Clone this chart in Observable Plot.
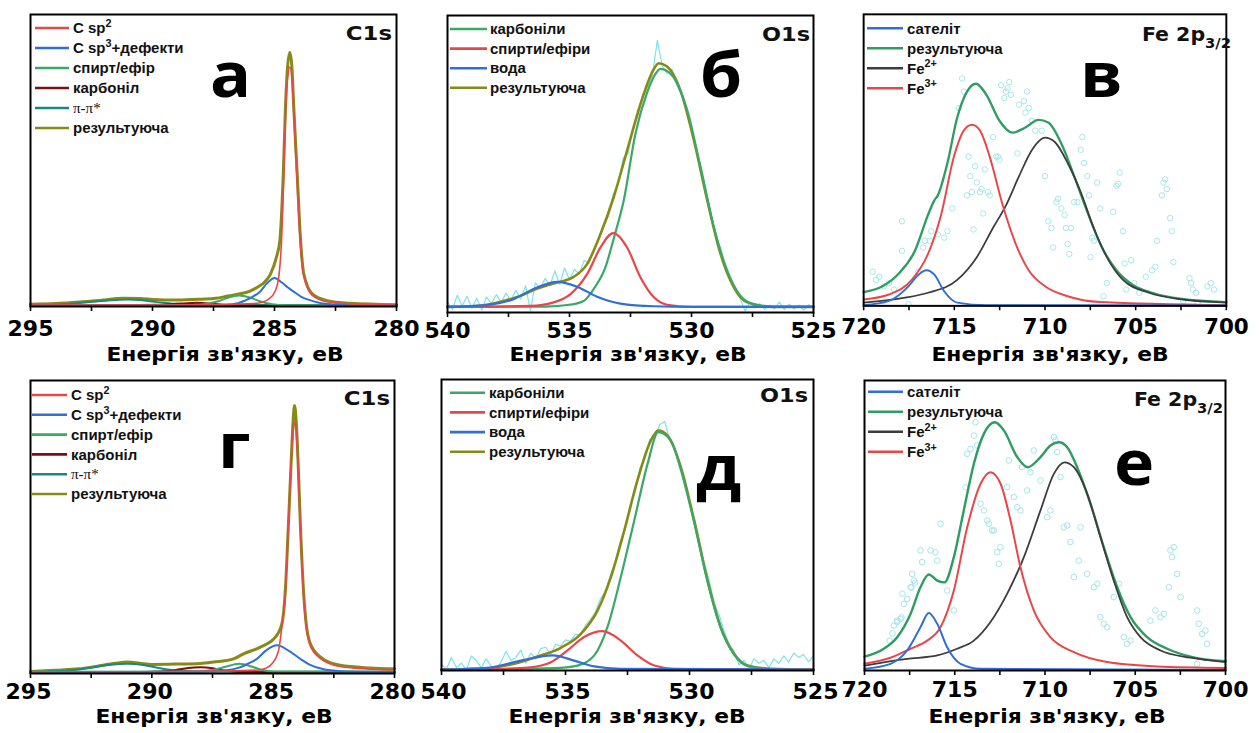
<!DOCTYPE html>
<html><head><meta charset="utf-8">
<script src="https://cdn.jsdelivr.net/npm/d3@7"></script>
<script src="https://cdn.jsdelivr.net/npm/@observablehq/plot@0.6"></script>
<style>
html,body{margin:0;padding:0;background:#fff;overflow:hidden;width:1259px;height:733px}
#root{position:relative;width:1259px;height:733px;overflow:hidden}
.panel{position:absolute}
#overlay{position:absolute;left:0;top:0;pointer-events:none}
</style></head><body><div id="root"></div>
<script>
// ---------- tick values ----------
const ticksC = [295, 290, 285, 280], minorC = [292.5, 287.5, 282.5];
const ticksO = [540, 535, 530, 525], minorO = [537.5, 532.5, 527.5];
const ticksFe = [720, 715, 710, 705, 700], minorFe = [717.5, 712.5, 707.5, 702.5];
const xTitle = "Енергія зв'язку, еВ";
const panelLetters = ["а", "б", "в", "г", "д", "е"];
const elementLabels = ["C1s", "O1s", "Fe 2p_{3/2}", "C1s", "O1s", "Fe 2p_{3/2}"];
const legC = ["C sp^{2}", "C sp^{3}+дефекти", "спирт/ефір", "карбоніл", "π-π*", "результуюча"];
const legO = ["карбоніли", "спирти/ефіри", "вода", "результуюча"];
const legFe = ["сателіт", "результуюча", "Fe^{2+}", "Fe^{3+}"];

// ---------- panel а (C1s) [eV, intensity] ----------
const a_total = [[295,0.8],[294,1.0],[293,1.5],[292,2.2],[291.2,2.8],[290.5,2.7],[290,2.4],[289,2.2],[288,2.5],[287.4,2.8],[286.9,3.6],[286.5,4.2],[286.0,5.3],[285.7,6.6],[285.4,8.4],[285.16,11.2],[284.92,16.9],[284.78,22.6],[284.64,45.4],[284.55,68.3],[284.46,82.5],[284.37,87.1],[284.29,82.5],[284.21,68.3],[284.07,45.4],[283.93,22.6],[283.8,11.2],[283.45,4.3],[282.84,2.0],[281.9,1.1],[280,0.6]];
const a_sp2 = [[295,0.5],[290,0.5],[288,0.6],[286.5,0.8],[285.71,1.1],[285.23,2.6],[284.96,5.5],[284.81,11.2],[284.71,22.6],[284.62,45.4],[284.54,68.3],[284.46,78.5],[284.37,82.0],[284.29,78.5],[284.21,66],[284.08,44],[283.94,21.5],[283.8,10.5],[283.45,3.8],[282.84,1.6],[281.9,0.9],[280,0.5]];
const a_sp3 = [[295,0.3],[288,0.4],[287,0.6],[286.5,1.1],[286.19,2.1],[285.9,3.3],[285.6,5.0],[285.3,8.0],[285.0,9.8],[284.7,8.2],[284.45,6.5],[284.2,5.0],[283.9,3.3],[283.52,2.1],[283.0,1.0],[282,0.5],[280,0.3]];
const a_ether = [[295,0.3],[288.5,0.4],[287.8,0.9],[287.3,1.8],[286.95,2.9],[286.45,3.8],[285.95,2.9],[285.6,1.8],[285.1,0.8],[284.5,0.4],[280,0.3]];
const a_carbonyl = [[295,0.2],[293,0.3],[291,0.5],[289.5,0.7],[288.8,1.0],[288.2,1.3],[287.6,1.0],[287,0.5],[286,0.3],[280,0.2]];
const a_pi = [[295,0.4],[293.5,0.8],[292.5,1.6],[291.5,2.2],[291.0,2.4],[290.5,2.2],[289.8,1.5],[289,0.9],[288,0.6],[286,0.5],[280,0.5]];

// ---------- panel б (O1s) ----------
const b_raw = [[540,3.5],[539.8,1.0],[539.6,5.8],[539.4,2.2],[539.2,5.5],[539.0,1.5],[538.8,4.8],[538.6,0.8],[538.4,5.2],[538.2,3.0],[538.0,6.0],[537.8,3.5],[537.6,6.5],[537.4,4.0],[537.2,7.5],[537.0,4.5],[536.8,9.0],[536.6,0.5],[536.4,10.0],[536.2,8.0],[536.0,11.5],[535.8,9.0],[535.6,14.0],[535.4,9.5],[535.2,15.0],[535.0,11.0],[534.8,14.5],[534.6,13.0],[534.4,17.5],[534.2,16.5],[534.0,21.0],[533.8,24.5],[533.6,29.0],[533.4,32.5],[533.2,40.0],[533.0,43.5],[532.8,52.0],[532.6,53.5],[532.4,62.0],[532.2,66.5],[532.0,73.5],[531.8,76.0],[531.6,80.0],[531.4,91.6],[531.2,83.0],[531.0,80.5],[530.8,82.0],[530.6,76.5],[530.4,73.0],[530.2,67.5],[530.0,62.5],[529.8,54.5],[529.6,49.0],[529.4,41.0],[529.2,33.5],[529.0,25.5],[528.8,21.5],[528.6,14.0],[528.4,11.5],[528.2,7.5],[528.0,4.5],[527.8,0.5],[527.6,3.5],[527.4,1.5],[527.2,3.0],[527.0,1.0],[526.8,2.5],[526.6,1.2],[526.4,3.5],[526.2,1.0],[526.0,2.8],[525.8,1.2],[525.6,2.5],[525.4,0.8],[525.2,2.6],[525.0,1.5]];
const b_total = [[540,1.9],[539,2.1],[538.39,2.6],[537.6,4.1],[537.02,5.6],[536.4,7.8],[535.65,9.8],[534.83,12.0],[534.28,16.3],[533.73,26.4],[533.19,38.8],[532.64,54.5],[532.09,70.2],[531.54,82.0],[531.34,83.9],[531.0,82.8],[530.45,74.7],[529.9,57.9],[529.35,37.6],[528.81,19.7],[528.26,8.4],[527.71,3.4],[526.75,1.9],[525,1.9]];
const b_carbonyl = [[540,1.9],[536,2.0],[535.0,2.6],[534.42,3.9],[534.0,8.0],[533.53,15.2],[533.15,26.0],[532.78,37.6],[532.3,60.1],[531.82,74.0],[531.5,80.0],[531.27,82.0],[530.95,81.0],[530.72,79.0],[530.17,68.0],[529.63,48.9],[529.08,28.7],[528.53,14.0],[527.99,5.6],[527.44,2.8],[526.5,1.9],[525,1.9]];
const b_alc = [[540,1.9],[536.6,2.2],[535.65,3.4],[534.96,6.2],[534.28,12.9],[533.73,21.9],[533.21,26.7],[532.64,21.9],[532.09,11.8],[531.54,5.1],[531.0,2.6],[530,1.9],[525,1.9]];
const b_water = [[540,1.9],[538.39,2.5],[537.29,4.5],[536.47,7.9],[535.51,10.3],[534.69,8.7],[533.87,5.3],[532.91,3.0],[531.54,2.1],[530,1.9],[525,1.9]];

// ---------- panel в (Fe 2p3/2) ----------
const v_raw = [[719.5,11.7],[719.32,8.9],[719.14,10.0],[718.87,6.7],[718.6,7.8],[718.33,5.6],[717.89,29.0],[717.89,18.9],[717.53,0.6],[716.99,11.7],[716.72,20.0],[716.63,22.3],[716.36,22.3],[716.27,25.6],[715.91,24.5],[715.56,23.4],[715.38,25.6],[715.11,33.4],[714.57,78.0],[714.75,67.9],[714.48,73.5],[714.3,37.9],[714.21,51.2],[714.12,44.5],[714.03,39.0],[713.94,26.2],[713.85,47.9],[713.76,42.3],[713.58,39.0],[713.49,40.1],[713.41,31.7],[713.32,46.8],[713.14,39.0],[713.05,37.9],[712.87,57.9],[712.69,51.2],[712.6,51.2],[712.51,50.1],[712.42,75.7],[712.24,71.3],[712.15,73.5],[712.06,74.6],[711.97,76.8],[711.88,72.4],[711.52,52.3],[711.43,69.0],[711.16,70.2],[711.08,66.3],[710.99,73.5],[710.9,67.9],[710.72,63.5],[710.54,60.1],[710.18,60.1],[710.0,44.5],[709.82,29.0],[709.64,26.7],[709.55,20.0],[709.37,35.6],[709.28,36.7],[709.1,33.4],[708.92,31.2],[708.84,26.7],[708.75,21.2],[708.66,17.8],[708.57,26.7],[708.39,35.6],[708.21,35.6],[708.03,53.5],[707.94,57.9],[707.85,49.0],[707.67,44.5],[707.58,37.9],[707.49,16.7],[707.4,23.4],[707.31,22.3],[707.13,42.3],[706.95,33.4],[706.77,3.3],[706.59,7.8],[706.24,32.3],[706.06,41.2],[705.97,41.8],[705.88,45.7],[705.7,25.6],[705.61,14.5],[705.52,5.6],[705.25,15.6],[705.07,7.8],[704.8,4.5],[704.44,10.0],[704.09,12.2],[703.91,13.4],[703.82,22.3],[703.55,37.9],[703.46,42.3],[703.37,43.4],[703.28,40.1],[703.1,30.1],[703.01,25.6],[702.92,15.0],[702.38,1.7],[702.03,9.5],[701.94,7.8],[701.85,5.6],[701.67,4.5],[701.58,1.1],[701.04,6.7],[700.86,7.8],[700.68,5.6]];
const v_sat = [[720,0.2],[718.6,1.7],[717.53,6.7],[716.99,10.6],[716.54,12.2],[716.09,10.6],[715.56,5.0],[714.84,1.1],[713.23,0.2],[700,0.1]];
const v_total = [[720,4.7],[718.96,6.7],[718.06,11.1],[717.17,18.9],[716.45,31.2],[716.1,36.2],[715.91,37.9],[715.38,49.0],[714.84,64.6],[714.3,73.5],[713.8,76.2],[713.23,72.4],[712.51,63.5],[711.79,59.4],[711.08,61.2],[710.36,63.8],[709.82,62.9],[709.1,55.7],[708.39,44.5],[707.67,32.3],[706.95,21.2],[706.06,12.2],[705.16,7.2],[704.09,4.5],[702.47,2.4],[700,1.3]];
const v_fe2 = [[720,1.1],[717.71,2.8],[716.45,4.5],[714.84,8.9],[713.76,16.7],[712.87,26.7],[712.15,34.5],[711.43,44.5],[710.72,53.5],[710.0,57.7],[709.46,56.2],[708.75,49.0],[708.03,39.0],[707.31,26.7],[706.59,16.7],[705.7,8.9],[704.27,4.5],[702.47,2.2],[700,1.1]];
const v_fe3 = [[720,2.2],[718.6,3.9],[717.35,8.9],[716.45,17.8],[715.73,31.2],[715.02,51.2],[714.48,60.1],[714.03,62.1],[713.58,60.1],[713.05,51.2],[712.33,34.5],[711.61,21.2],[710.9,12.2],[710.0,6.7],[708.75,3.3],[706.95,1.3],[700,0.2]];

// ---------- panel г (C1s) ----------
const g_total = [[295,0.7],[294,1.1],[293,1.6],[292.2,2.6],[291.5,3.5],[291.0,3.9],[290.5,3.5],[290,3.1],[289,3.2],[288,3.4],[287.45,3.9],[286.63,5.0],[286.22,6.7],[285.53,9.0],[284.91,12.4],[284.64,17.0],[284.5,28.3],[284.37,51.1],[284.25,73.8],[284.18,86],[284.12,91.5],[284.05,86],[283.98,73.8],[283.88,51.1],[283.75,28.3],[283.64,17.0],[283.47,10.2],[283.06,5.7],[282.24,2.8],[281,1.9],[280,1.6]];
const g_sp2 = [[295,0.6],[290,0.6],[287,0.8],[285.6,1.2],[285.3,1.8],[285.05,3.3],[284.78,7.8],[284.64,16],[284.5,27],[284.38,49.5],[284.26,72],[284.18,82],[284.12,85.8],[284.05,82],[283.98,72],[283.88,50],[283.75,27.5],[283.64,16.3],[283.47,9.5],[283.06,5.2],[282.24,2.4],[281,1.5],[280,1.2]];
const g_sp3 = [[295,0.5],[288,0.6],[287,1.0],[286.4,2.0],[286.0,3.5],[285.67,5.0],[285.3,7.8],[284.84,9.6],[284.4,8.0],[283.88,5.0],[283.5,3.0],[283,1.6],[282.2,0.8],[280,0.5]];
const g_ether = [[295,0.6],[288.2,0.7],[287.5,1.2],[287.0,2.2],[286.4,3.3],[285.9,2.4],[285.5,1.3],[285,0.7],[280,0.6]];
const g_carbonyl = [[295,0.3],[292,0.4],[290,0.6],[289,1.2],[288.5,1.9],[288.0,2.1],[287.5,1.8],[287,1.0],[286,0.4],[280,0.3]];
const g_pi = [[295,0.5],[293.5,1.0],[292.5,2.0],[291.7,3.0],[291.0,3.3],[290.3,2.8],[289.6,1.7],[289,1.0],[288,0.7],[286,0.6],[280,0.6]];

// ---------- panel д (O1s) ----------
const d_raw = [[540,2.0],[539.8,0.5],[539.6,4.5],[539.4,1.0],[539.2,2.5],[539.0,0.2],[538.8,5.0],[538.6,3.5],[538.4,1.0],[538.2,4.0],[538.0,1.5],[537.8,0.0],[537.6,3.0],[537.4,6.5],[537.2,3.5],[537.0,4.5],[536.8,7.0],[536.6,2.5],[536.4,6.0],[536.2,4.0],[536.0,7.5],[535.8,8.0],[535.6,5.5],[535.4,9.0],[535.2,8.5],[535.0,10.5],[534.8,10.0],[534.6,12.5],[534.4,12.0],[534.2,15.5],[534.0,17.5],[533.8,20.0],[533.6,24.5],[533.4,27.0],[533.2,32.5],[533.0,37.0],[532.8,44.0],[532.6,48.5],[532.4,56.5],[532.2,61.0],[532.0,69.5],[531.8,73.0],[531.6,79.5],[531.4,80.0],[531.2,84.5],[531.0,85.6],[530.8,79.0],[530.6,76.5],[530.4,70.5],[530.2,66.0],[530.0,58.5],[529.8,52.0],[529.6,44.5],[529.4,36.5],[529.2,31.0],[529.0,23.0],[528.8,19.0],[528.6,13.5],[528.4,9.0],[528.2,6.5],[528.0,2.0],[527.8,3.5],[527.6,0.5],[527.4,4.0],[527.2,2.5],[527.0,3.5],[526.8,1.0],[526.6,4.0],[526.4,2.5],[526.2,5.0],[526.0,3.0],[525.8,6.0],[525.6,4.5],[525.4,5.5],[525.2,3.0],[525.0,5.0]];
const d_total = [[540,0.3],[539,0.5],[538.15,0.8],[537.07,2.3],[536.13,4.8],[535.19,7.8],[534.38,12.6],[533.71,20.6],[533.17,32.1],[532.63,48.1],[532.1,65.3],[531.56,79.0],[531.26,82.5],[530.89,80.8],[530.35,69.9],[529.81,51.5],[529.27,30.9],[528.74,14.9],[528.2,5.7],[527.66,1.7],[526.72,0.6],[525,0.3]];
const d_carbonyl = [[540,0.3],[535.46,0.8],[534.52,1.7],[533.84,5.2],[533.31,14.9],[532.77,32.1],[532.23,51.5],[531.69,71.0],[531.26,81.9],[530.75,79.0],[530.35,69.0],[529.81,50.8],[529.27,30.4],[528.74,14.6],[528.2,5.5],[527.66,1.6],[526.72,0.5],[525,0.3]];
const d_alc = [[540,0.3],[536.8,0.8],[535.73,2.3],[534.92,6.9],[534.25,11.5],[533.51,13.5],[532.77,10.3],[532.1,5.2],[531.42,1.7],[530.62,0.6],[525,0.3]];
const d_water = [[540,0.3],[538.15,0.9],[536.8,3.4],[535.52,5.2],[534.65,3.4],[533.84,1.4],[532.77,0.6],[525,0.3]];

// ---------- panel е (Fe 2p3/2) ----------
const e_raw = [[718.6,10.3],[718.45,12.8],[718.37,15.5],[718.2,17.2],[718.19,16.7],[718.0,17.8],[717.95,18.3],[717.9,26.5],[717.82,23.0],[717.64,24.7],[717.45,28.7],[717.4,28.6],[717.36,33.3],[717.27,31.0],[717.2,30.3],[716.9,41.4],[716.81,37.4],[716.34,41.4],[716.07,40.8],[715.97,37.9],[715.79,50.6],[715.42,27.6],[715.05,20.7],[714.4,63.2],[714.31,74.7],[714.13,76.4],[713.94,81.0],[713.85,85.6],[713.76,77.6],[713.57,57.5],[713.39,55.2],[713.2,51.7],[713.11,50.6],[712.93,48.3],[712.83,48.3],[712.65,40.8],[712.56,36.8],[712.47,42.5],[712.1,63.2],[712.0,72.4],[711.73,59.8],[711.54,56.3],[711.36,55.2],[711.27,70.1],[710.99,62.1],[710.8,68.4],[710.62,75.9],[710.25,65.5],[709.88,52.9],[709.7,55.2],[709.51,80.5],[709.42,79.3],[709.33,75.3],[709.14,66.7],[708.96,49.4],[708.77,50.0],[708.59,44.3],[708.4,32.2],[708.13,37.9],[708.03,49.4],[707.66,33.3],[707.29,28.7],[707.11,29.9],[706.93,18.4],[706.74,16.1],[706.56,14.9],[706.19,25.3],[705.91,29.9],[705.63,11.5],[705.45,9.2],[705.26,10.3],[704.16,17.2],[703.88,20.7],[703.6,18.4],[703.42,19.5],[703.14,28.7],[703.05,41.4],[702.96,39.1],[702.86,42.5],[702.68,33.3],[702.49,25.3],[701.57,20.7],[701.48,16.1],[701.29,12.6],[701.11,13.8],[701.02,9.2],[701.57,2.3]];
const e_sat = [[720,0.6],[718.56,2.3],[717.64,6.9],[716.9,14.9],[716.44,19.8],[715.97,16.1],[715.42,8.0],[714.68,2.3],[713.57,0.6],[700,0.2]];
const e_total = [[720,4.8],[718.93,7.5],[718.19,11.5],[717.45,19.5],[716.9,28.7],[716.44,33.1],[715.97,31.0],[715.57,30.4],[715.05,39.1],[714.5,55.2],[713.94,71.3],[713.39,81.6],[712.78,85.6],[712.28,82.8],[711.54,73.6],[710.95,70.1],[710.25,73.6],[709.7,77.6],[709.23,78.7],[708.77,77.0],[708.22,70.1],[707.48,57.5],[706.74,42.5],[706.0,28.7],[705.26,18.4],[704.34,11.5],[703.23,7.5],[701.94,4.8],[700,3.2]];
const e_fe2 = [[720,1.7],[717.64,4.0],[715.97,5.2],[714.87,7.5],[713.94,10.3],[713.02,16.7],[712.1,26.4],[711.17,39.1],[710.25,55.2],[709.51,67.8],[708.92,71.8],[708.4,70.1],[707.66,60.9],[706.93,46.0],[706.19,31.0],[705.45,18.4],[704.71,11.5],[703.6,6.9],[701.94,4.4],[700,2.9]];
const e_fe3 = [[720,2.3],[718.56,4.4],[717.45,7.5],[716.53,10.3],[715.79,14.9],[715.05,27.6],[714.31,49.4],[713.57,64.4],[713.02,68.4],[712.46,64.4],[711.91,51.7],[711.36,35.6],[710.62,20.7],[709.7,11.5],[708.4,6.3],[706.56,2.9],[703.79,1.4],[700,0.9]];

// ---------- styles / layout ----------
const col = {red:"#e8474a", blue:"#2f6fd6", green:"#3aa866", darkred:"#7a1010", teal:"#178a80", olive:"#878b16", black:"#3c3c3c", feGreen:"#2e9c63", cyan:"#7fe2ea", cyanDot:"#a3e6ea"};

const panels = [
  {L:30,R:396,T:14,B:306,pad:9,tdx:0,dom:[295,280],major:ticksC,minor:minorC,
   lines:[[a_total,col.olive,3],[a_pi,col.teal,2],[a_carbonyl,col.darkred,2],[a_ether,col.green,2],[a_sp3,col.blue,2],[a_sp2,col.red,1.6]],
   legend:legC, legendColors:[col.red,col.blue,col.green,col.darkred,col.teal,col.olive],
   lg:{x1:35,x2:69,tx:73,y0:28,step:20}, el:{x:392,y:40,s:1.2}, big:{x:210,y:97}, title:{x:225,y:361}},
  {L:447,R:813,T:15,B:312,pad:5,tdx:0,dom:[540,525],major:ticksO,minor:minorO, rawLine:b_raw,
   lines:[[b_total,col.olive,2.6],[b_carbonyl,col.green,2.2],[b_alc,col.red,2.2],[b_water,col.blue,2.2]],
   legend:legO, legendColors:[col.green,col.red,col.blue,col.olive],
   lg:{x1:450,x2:487,tx:490,y0:29,step:19.6}, el:{x:810,y:41,s:1.18}, big:{x:700,y:97}, title:{x:628,y:361}},
  {L:864,R:1236,T:14,B:313,pad:8,tdx:0,dom:[720,700],major:ticksFe,minor:minorFe, rawDots:v_raw,
   lines:[[v_total,col.feGreen,2.4],[v_fe2,col.black,1.8],[v_fe3,col.red,2],[v_sat,col.blue,2]],
   legend:legFe, legendColors:[col.blue,col.feGreen,col.black,col.red],
   lg:{x1:867,x2:903,tx:907,y0:28.3,step:20}, el:{x:1231,y:41,s:1.08}, big:{x:1080,y:97}, title:{x:1050,y:361}},
  {L:30,R:394,T:380,B:673,pad:5,tdx:-2,dom:[295,280],major:ticksC,minor:minorC,
   lines:[[g_total,col.olive,3],[g_pi,col.teal,2],[g_carbonyl,col.darkred,2],[g_ether,col.green,2],[g_sp3,col.blue,2],[g_sp2,col.red,1.6]],
   legend:legC, legendColors:[col.red,col.blue,col.green,col.darkred,col.teal,col.olive],
   lg:{x1:32,x2:67,tx:71,y0:395,step:19.8}, el:{x:390,y:405,s:1.2}, big:{x:218,y:468}, title:{x:214,y:723}},
  {L:441,R:813,T:379,B:670,pad:8,tdx:2,dom:[540,525],major:ticksO,minor:minorO, rawLine:d_raw,
   lines:[[d_total,col.olive,2.6],[d_carbonyl,col.green,2.2],[d_alc,col.red,2.2],[d_water,col.blue,2.2]],
   legend:legO, legendColors:[col.green,col.red,col.blue,col.olive],
   lg:{x1:450,x2:485,tx:489,y0:392.7,step:19.7}, el:{x:808,y:402,s:1.18}, big:{x:696,y:490}, title:{x:627,y:723}},
  {L:864,R:1225,T:380,B:670,pad:6,tdx:0,dom:[720,700],major:ticksFe,minor:minorFe, rawDots:e_raw,
   lines:[[e_total,col.feGreen,2.4],[e_fe2,col.black,1.8],[e_fe3,col.red,2],[e_sat,col.blue,2]],
   legend:legFe, legendColors:[col.blue,col.feGreen,col.black,col.red],
   lg:{x1:868,x2:903,tx:907,y0:391.7,step:20}, el:{x:1223,y:406,s:1.08}, big:{x:1114,y:485}, title:{x:1047,y:723}}
];

const root = document.getElementById("root");
const mL = 34, mR = 34, mT = 6, mB = 46;
const X = d => d[0], Y = d => d[1];

panels.forEach(p => {
  const marks = [];
  if (p.rawLine) marks.push(Plot.line(p.rawLine, {x: X, y: Y, stroke: col.cyan, strokeWidth: 1.2}));
  if (p.rawDots) marks.push(Plot.dot(p.rawDots, {x: X, y: Y, r: 2.8, stroke: col.cyanDot, fill: "none", strokeWidth: 1}));
  p.lines.forEach(([data, c, w]) => marks.push(Plot.line(data, {x: X, y: Y, stroke: c, strokeWidth: w, curve: "monotone-x"})));
  const allTicks = p.major.concat(p.minor);
  marks.push(Plot.axisX({ticks: allTicks, tickSize: 5, text: null, strokeWidth: 1.6, label: null}));
  marks.push(Plot.axisX({ticks: p.major, tickSize: 0, tickPadding: p.pad + 5, dx: p.tdx,
    tickFormat: d => String(d), label: null, fontSize: 22, fontWeight: "bold"}));
  marks.push(Plot.frame({stroke: "#000", strokeWidth: 2}));
  const chart = Plot.plot({
    width: p.R - p.L + mL + mR, height: p.B - p.T + mT + mB,
    marginLeft: mL, marginRight: mR, marginTop: mT, marginBottom: mB,
    x: {domain: p.dom, label: null},
    y: {domain: [0, 100], axis: null},
    style: {fontFamily: "DejaVu Sans", fontSize: "22px", fontWeight: "bold", color: "#000", background: "transparent", overflow: "visible"},
    marks
  });
  const div = document.createElement("div");
  div.className = "panel";
  div.style.left = (p.L - mL) + "px";
  div.style.top = (p.T - mT) + "px";
  div.appendChild(chart);
  root.appendChild(div);
});

// ---------- overlay texts ----------
const ov = d3.select("#root").append("svg").attr("id", "overlay").attr("width", 1259).attr("height", 733);

function richText(sel, str, fs) {
  const re = /(\^|_)\{([^}]*)\}/g; let last = 0, m; const parts = [];
  while ((m = re.exec(str))) {
    if (m.index > last) parts.push([str.slice(last, m.index), 0]);
    parts.push([m[2], m[1] === "^" ? 1 : -1]); last = re.lastIndex;
  }
  if (last < str.length) parts.push([str.slice(last), 0]);
  let cur = 0;
  parts.forEach(([t, k]) => {
    const target = k === 1 ? -fs * 0.42 : k === -1 ? fs * 0.36 : 0;
    sel.append("tspan").attr("dy", target - cur).attr("font-size", k ? fs * 0.72 : fs).text(t);
    cur = target;
  });
}

panels.forEach((p, i) => {
  const lg = p.lg;
  p.legend.forEach((lab, k) => {
    const y = lg.y0 + k * lg.step;
    ov.append("line").attr("x1", lg.x1).attr("x2", lg.x2).attr("y1", y).attr("y2", y)
      .attr("stroke", p.legendColors[k]).attr("stroke-width", 2.6);
    const serif = lab.includes("π");
    const t = ov.append("text").attr("x", lg.tx).attr("y", y + 5.2)
      .attr("font-family", serif ? "Liberation Serif" : "Liberation Sans, Arial, sans-serif")
      .attr("font-weight", serif ? "normal" : "bold").attr("font-size", 15).attr("fill", "#111");
    richText(t, lab, 15);
  });
  const el = ov.append("text").attr("transform", `translate(${p.el.x},${p.el.y}) scale(${p.el.s},1)`)
    .attr("text-anchor", "end").attr("font-family", "DejaVu Sans").attr("font-weight", "bold")
    .attr("font-size", 19).attr("fill", "#111");
  richText(el, elementLabels[i], 19);
  ov.append("text").attr("transform", `translate(${p.big.x},${p.big.y}) scale(1.08,1)`)
    .attr("font-family", "Open Sans").attr("font-weight", "bold").attr("font-size", 63).attr("fill", "#000")
    .text(panelLetters[i]);
  ov.append("text").attr("transform", `translate(${p.title.x},${p.title.y}) scale(1.12,1)`)
    .attr("text-anchor", "middle").attr("font-family", "DejaVu Sans").attr("font-weight", "bold")
    .attr("font-size", 19.5).attr("fill", "#000").text(xTitle);
});
</script>
</body></html>
